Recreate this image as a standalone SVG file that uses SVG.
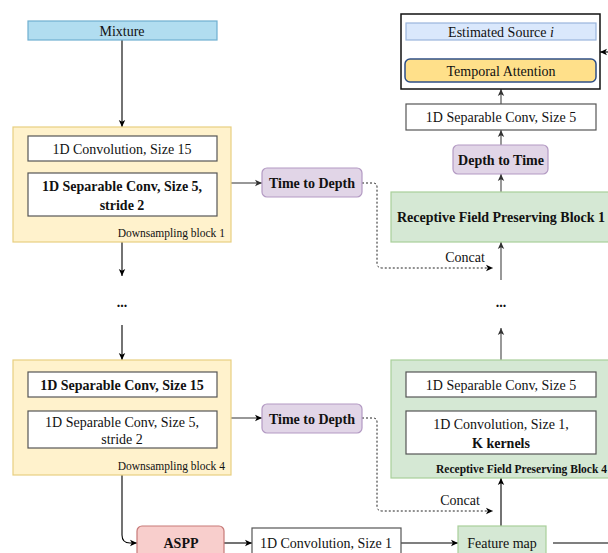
<svg xmlns="http://www.w3.org/2000/svg" width="608" height="553" viewBox="0 0 608 553">
<defs>
<marker id="ah" markerWidth="8" markerHeight="8" refX="7" refY="4" orient="auto" markerUnits="userSpaceOnUse">
<path d="M0,0.8 L7,4 L0,7.2 L1.8,4 Z" fill="#000"/>
</marker>
<marker id="ahg" markerWidth="8" markerHeight="8" refX="7" refY="4" orient="auto" markerUnits="userSpaceOnUse">
<path d="M0,0.8 L7,4 L0,7.2 L1.8,4 Z" fill="#333"/>
</marker>
</defs>
<style>
text{font-family:"Liberation Serif","Times New Roman",serif;fill:#111;}
.t14{font-size:14px;text-anchor:middle;}
.b{font-weight:bold;}
.small{font-size:11.5px;text-anchor:end;}
.white{fill:#fff;stroke:#555;stroke-width:1.2;}
.ds{fill:#fff2cc;stroke:#e8cf80;stroke-width:1.2;}
.rf{fill:#d5e8d4;stroke:#a9cf9a;stroke-width:1.2;}
.pur{fill:#e1d5e7;stroke:#b39ac3;stroke-width:1.2;}
.line{fill:none;stroke:#000;stroke-width:1.1;}
.gline{fill:none;stroke:#444;stroke-width:1.1;}
.dot{fill:none;stroke:#222;stroke-width:1;stroke-dasharray:2 2;}
</style>

<g id="connectors">
<line class="line" x1="122" y1="40" x2="122" y2="127" marker-end="url(#ah)"/>
<line class="line" x1="122" y1="161" x2="122" y2="173" marker-end="url(#ah)"/>
<line class="line" x1="122" y1="242" x2="122" y2="276" marker-end="url(#ah)"/>
<line class="line" x1="122" y1="325" x2="122" y2="360" marker-end="url(#ah)"/>
<line class="line" x1="122" y1="397" x2="122" y2="411" marker-end="url(#ah)"/>
<path class="line" d="M122,475 L122,535 Q122,543 130,543 L137,543" marker-end="url(#ah)"/>
<line class="line" x1="224" y1="543" x2="252" y2="543" marker-end="url(#ah)"/>
<line class="line" x1="401" y1="543" x2="458" y2="543" marker-end="url(#ah)"/>
<line class="line" x1="553" y1="543" x2="608" y2="543"/>
<line class="line" x1="501" y1="526" x2="501" y2="478" marker-end="url(#ah)"/>
<line class="gline" x1="231" y1="183" x2="262" y2="183" marker-end="url(#ahg)"/>
<line class="gline" x1="231" y1="418" x2="262" y2="418" marker-end="url(#ah)"/>
<path class="dot" d="M362,183 L373,183 Q377,183 377,187 L377,263 Q377,268 382,268 L493,268" marker-end="url(#ah)"/>
<path class="dot" d="M362,418 L373,418 Q377,418 377,422 L377,506 Q377,511 382,511 L493,511" marker-end="url(#ah)"/>
<line class="gline" x1="501" y1="280" x2="501" y2="242" marker-end="url(#ahg)"/>
<line class="gline" x1="501" y1="192" x2="501" y2="174" marker-end="url(#ahg)"/>
<line class="gline" x1="501" y1="145" x2="501" y2="130" marker-end="url(#ahg)"/>
<line class="gline" x1="501" y1="104" x2="501" y2="89" marker-end="url(#ahg)"/>
<line class="gline" x1="501" y1="59" x2="501" y2="40" marker-end="url(#ahg)"/>
<line class="gline" x1="501" y1="360" x2="501" y2="328" marker-end="url(#ahg)"/>
<line class="gline" x1="501" y1="411" x2="501" y2="397" marker-end="url(#ahg)"/>
<line class="line" x1="608" y1="52" x2="600" y2="52" marker-end="url(#ah)"/>
</g>

<g id="mixture">
<rect x="28" y="21" width="189" height="19" fill="#b1ddf0" stroke="#6fb0d0" stroke-width="1.2"/>
<text class="t14" x="122" y="36">Mixture</text>
</g>

<g id="downsampling-block-1">
<rect class="ds" x="13" y="127" width="218" height="115"/>
<rect class="white" x="28" y="136" width="189" height="25"/>
<text class="t14" x="122" y="154">1D Convolution, Size 15</text>
<rect class="white" x="28" y="173" width="189" height="43"/>
<text class="t14 b" x="122" y="191">1D Separable Conv, Size 5,</text>
<text class="t14 b" x="122" y="210">stride 2</text>
<text class="small" x="225" y="237">Downsampling block 1</text>
</g>

<g id="ellipsis-left">
<text class="t14 b" x="122" y="307">...</text>
</g>

<g id="downsampling-block-4">
<rect class="ds" x="13" y="360" width="218" height="115"/>
<rect class="white" x="28" y="372" width="189" height="25"/>
<text class="t14 b" x="122" y="390">1D Separable Conv, Size 15</text>
<rect class="white" x="28" y="411" width="189" height="37"/>
<text class="t14" x="122" y="427">1D Separable Conv, Size 5,</text>
<text class="t14" x="122" y="444">stride 2</text>
<text class="small" x="225" y="470">Downsampling block 4</text>
</g>

<g id="time-to-depth-1">
<rect class="pur" x="262" y="168" width="100" height="29" rx="5"/>
<text class="t14 b" x="312" y="188">Time to Depth</text>
</g>

<g id="time-to-depth-4">
<rect class="pur" x="262" y="404" width="100" height="29" rx="5"/>
<text class="t14 b" x="312" y="424">Time to Depth</text>
</g>

<g id="concat-1"><text class="t14" x="465" y="262">Concat</text></g>
<g id="concat-4"><text class="t14" x="460" y="505">Concat</text></g>

<g id="aspp">
<rect x="137" y="526" width="87" height="32" rx="5" fill="#f8cecc" stroke="#c77a78" stroke-width="1.2"/>
<text class="t14 b" x="181" y="548">ASPP</text>
</g>

<g id="conv-size-1">
<rect class="white" x="252" y="528" width="149" height="30"/>
<text class="t14" x="326" y="548">1D Convolution, Size 1</text>
</g>

<g id="feature-map">
<rect class="rf" x="458" y="526" width="88" height="32"/>
<text class="t14" x="502" y="548">Feature map</text>
</g>

<g id="rfpb-4">
<rect class="rf" x="391" y="360" width="221" height="118"/>
<rect class="white" x="406" y="372" width="190" height="25"/>
<text class="t14" x="501" y="390">1D Separable Conv, Size 5</text>
<rect class="white" x="406" y="411" width="190" height="43"/>
<text class="t14" x="501" y="429">1D Convolution, Size 1,</text>
<text class="t14 b" x="501" y="448">K kernels</text>
<text class="b" x="607" y="473" style="font-size:11.5px;text-anchor:end">Receptive Field Preserving Block 4</text>
</g>

<g id="ellipsis-right">
<text class="t14 b" x="501" y="307">...</text>
</g>

<g id="rfpb-1">
<rect class="rf" x="391" y="192" width="221" height="50"/>
<text class="t14 b" x="501" y="222">Receptive Field Preserving Block 1</text>
</g>

<g id="depth-to-time">
<rect class="pur" x="453" y="145" width="95" height="29" rx="5"/>
<text class="t14 b" x="501" y="165">Depth to Time</text>
</g>

<g id="sep-conv-out">
<rect class="white" x="406" y="104" width="190" height="26"/>
<text class="t14" x="501" y="122">1D Separable Conv, Size 5</text>
</g>

<g id="output-block">
<rect x="401" y="14" width="199" height="75" fill="#fff" stroke="#111" stroke-width="1.5"/>
<rect x="406" y="23" width="190" height="17" fill="#dae8fc" stroke="#9ab5dc" stroke-width="1.2"/>
<text class="t14" x="501" y="37">Estimated Source <tspan font-style="italic">i</tspan></text>
<rect x="405" y="59" width="191" height="23" rx="5" fill="#ffe08a" stroke="#2f4f86" stroke-width="1.5"/>
<text class="t14" x="501" y="76">Temporal Attention</text>
</g>
</svg>
